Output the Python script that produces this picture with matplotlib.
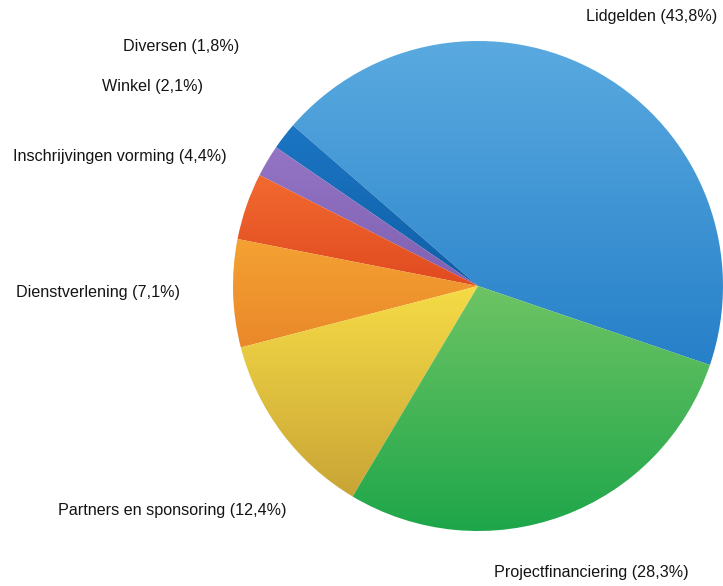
#!/usr/bin/env python
'''
plot.py: pie chart of income sources (inkomsten), Dutch labels
'''

import numpy as np
import matplotlib
matplotlib.use("Agg")
import matplotlib.pyplot as plt
from matplotlib.colors import to_rgb

# data, counter-clockwise from the Lidgelden wedge
categories = ["Lidgelden", "Diversen", "Winkel", "Inschrijvingen vorming",
              "Dienstverlening", "Partners en sponsoring", "Projectfinanciering"]
shares = [43.8, 1.8, 2.1, 4.4, 7.1, 12.4, 28.3]
share_labels = ["43,8%", "1,8%", "2,1%", "4,4%", "7,1%", "12,4%", "28,3%"]

# gradient colours per wedge (top, bottom)
grad_colors = [("#5aaae0", "#2680c8"),
               ("#1c76c4", "#0f5fa6"),
               ("#9474c4", "#8060b0"),
               ("#f26a30", "#e04a20"),
               ("#f4a232", "#ea882a"),
               ("#f6dc46", "#c9a436"),
               ("#6ec464", "#1ea64a")]

# label anchor points in figure pixels (x, y from top)
label_pos = [(652, 17), (181, 47), (153, 87), (120, 157),
             (98, 293), (172, 510), (591, 572)]

W, H = 723, 586


def main():
    plt.rcParams['font.family'] = ['Liberation Sans', 'DejaVu Sans']

    fig = plt.figure(figsize=(W / 100, H / 100), dpi=100)
    ax = fig.add_axes([0, 0, 1, 1])

    cx, cy, r = 478, H - 286, 245
    wedges, _ = ax.pie(shares, center=(cx, cy), radius=r, startangle=-18.8,
                       counterclock=True, frame=True,
                       wedgeprops=dict(linewidth=0))

    # fill each wedge with a vertical gradient clipped to its shape
    for wedge, (top, bot) in zip(wedges, grad_colors):
        wedge.set_facecolor('none')
        ext = wedge.get_path().get_extents(wedge.get_patch_transform())
        t = np.linspace(0, 1, 256)[:, None, None]
        c_top = np.array(to_rgb(top))[None, None, :]
        c_bot = np.array(to_rgb(bot))[None, None, :]
        img = c_top * (1 - t) + c_bot * t
        im = ax.imshow(img, extent=(ext.x0 - 1, ext.x1 + 1, ext.y0 - 1, ext.y1 + 1),
                       origin='upper', aspect='auto', interpolation='bilinear',
                       zorder=1)
        im.set_clip_path(wedge)

    ax.set_xlim(0, W)
    ax.set_ylim(0, H)
    ax.set_aspect('equal')
    ax.axis('off')

    for name, lab, (x, y) in zip(categories, share_labels, label_pos):
        ax.text(x, H - y, "{} ({})".format(name, lab), ha='center', va='center',
                fontsize=11.6, color='#141414')

    fig.savefig("out.png", dpi=100)
    plt.close()


if __name__ == '__main__':
    main()
